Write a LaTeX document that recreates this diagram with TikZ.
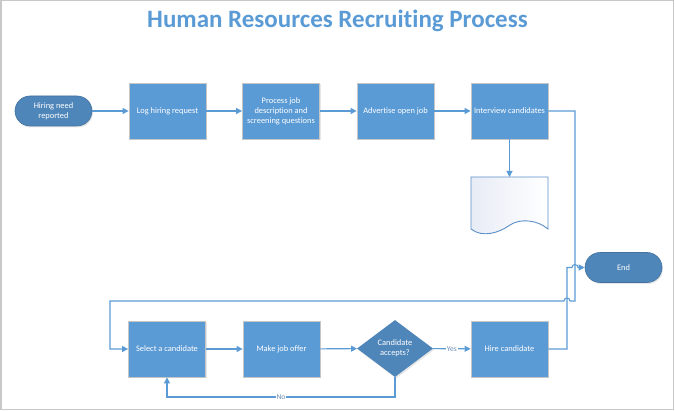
\documentclass[tikz,border=0pt]{standalone}
\usepackage{fontspec}
\setmainfont{Carlito}[Ligatures={NoCommon}]
\usetikzlibrary{arrows.meta,shapes.geometric,shadows}
\definecolor{boxblue}{HTML}{5B9BD5}
\definecolor{darkblue}{HTML}{4F86BA}
\definecolor{lineblue}{HTML}{5B9BD5}
\definecolor{framegray}{HTML}{C8C8C8}
\definecolor{labelblue}{HTML}{6B8DB8}
\definecolor{docshade}{HTML}{E8ECF5}
\definecolor{docline}{HTML}{5B8FC8}
\begin{document}
\begin{tikzpicture}[x=1pt,y=-1pt,
  procbox/.style={rectangle, fill=boxblue, draw=gray!45, line width=0.8pt,
    minimum width=77pt, minimum height=56pt, text=white,
    font=\fontsize{8.4}{10}\selectfont, align=center, inner sep=1pt,
    drop shadow={shadow xshift=1pt,shadow yshift=-1.5pt,opacity=0.2,fill=gray}},
  term/.style={rectangle, rounded corners=15pt, fill=darkblue, draw=darkblue!85!black,
    line width=0.6pt, minimum width=77pt, minimum height=30pt, text=white,
    font=\fontsize{8.4}{10}\selectfont, align=center, inner sep=1pt,
    drop shadow={shadow xshift=1pt,shadow yshift=-1.5pt,opacity=0.2,fill=gray}},
  decision/.style={diamond, fill=darkblue, draw=none, minimum width=76pt,
    minimum height=57pt, inner sep=0pt, text=white,
    font=\fontsize{8.4}{10}\selectfont, align=center,
    drop shadow={shadow xshift=1pt,shadow yshift=-1.5pt,opacity=0.2,fill=gray}},
  conn/.style={draw=lineblue, line width=1.1pt, -{Triangle[length=6pt,width=6pt]}},
  lbl/.style={fill=white, text=labelblue, font=\fontsize{7.5}{9}\selectfont, inner sep=1pt}
]
\useasboundingbox (0,0) rectangle (675,411);
\draw[framegray, line width=1.5pt] (0.75,0.75) rectangle (673.5,409.5);

\node[font=\fontsize{25}{30}\selectfont\bfseries, text=boxblue, anchor=base] (title) at (337.5,28) {Human Resources Recruiting Process};

\node[term] (start) at (53.5,111) {Hiring need\\reported};
\node[procbox] (log) at (167.5,111) {Log hiring request};
\node[procbox] (proc) at (281,111) {Process job\\description and\\screening questions};
\node[procbox] (adv) at (395.5,111) {Advertise open job};
\node[procbox] (intv) at (509.5,111) {Interview candidates};
\coordinate (doctop) at (509.5,177);
\node[term] (end) at (623.5,267.5) {End};
\node[procbox] (sel) at (167,349) {Select a candidate};
\node[procbox] (offer) at (281.5,349) {Make job offer};
\node[decision] (acc) at (395,348.5) {Candidate\\accepts?};
\node[procbox] (hire) at (509.5,349) {Hire candidate};

% document shape
\draw[docline, line width=0.9pt, left color=docshade, right color=white]
  (471,177) -- (548,177) -- (548,229)
  .. controls (537,220) and (521,218) .. (510,225)
  .. controls (499,233) and (482,238) .. (471,229) -- cycle;

\draw[conn] (start) -- (log);
\draw[conn] (log) -- (proc);
\draw[conn] (proc) -- (adv);
\draw[conn] (adv) -- (intv);
\draw[conn] (intv) -- (doctop);
\draw[conn] (intv.east) -- (575,111) -- (575,301) -- (570,301)
  arc[start angle=0,end angle=180,radius=3pt] -- (110,301) -- (110,349) -- (sel.west);
\draw[conn] (hire.east) -- (567,349) -- (567,267.5) -- (572,267.5)
  arc[start angle=180,end angle=0,radius=3pt] -- (end.west);
\draw[conn] (sel) -- (offer);
\draw[conn] (offer) -- (acc);
\draw[conn] (acc) -- node[lbl]{Yes} (hire);
\draw[conn] (acc.south) -- (395,397) -- node[lbl]{No} (167,397) -- (sel.south);
\end{tikzpicture}
\end{document}
